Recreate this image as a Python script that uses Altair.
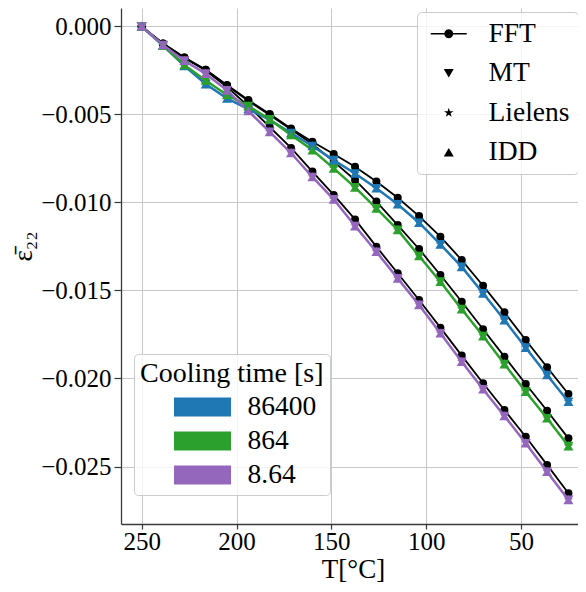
import altair as alt
import pandas as pd

# Temperatures (°C)
temps = [250, 238.75, 227.5, 216.25, 205, 193.75, 182.5, 171.25, 160, 148.75, 137.5,
         126.25, 115, 103.75, 92.5, 81.25, 70, 58.75, 47.5, 36.25, 25]

cooling_times = ["86400", "864", "8.64"]
cooling_colors = ["#1f77b4", "#2ca02c", "#9467bd"]
methods = ["FFT", "MT", "Lielens", "IDD"]

# FFT reference curves
fft_86400 = [0, -0.00097, -0.00176, -0.00246, -0.00332, -0.00418, -0.00497, -0.00580, -0.00655,
             -0.00724, -0.00797, -0.00881, -0.00973, -0.01077, -0.01194, -0.01327, -0.01473,
             -0.01624, -0.01781, -0.01936, -0.02088]
fft_864 = [0, -0.00097, -0.00176, -0.00246, -0.00335, -0.00423, -0.00503, -0.00585, -0.00668,
           -0.00768, -0.00872, -0.00995, -0.01128, -0.01264, -0.01412, -0.01564, -0.01720,
           -0.01876, -0.02031, -0.02183, -0.02340]
fft_8_64 = [0, -0.00099, -0.00179, -0.00250, -0.00344, -0.00452, -0.00571, -0.00690, -0.00824,
            -0.00957, -0.01096, -0.01251, -0.01402, -0.01554, -0.01711, -0.01870, -0.02027,
            -0.02179, -0.02331, -0.02491, -0.02652]

# Homogenization models (MT, Lielens and IDD coincide on the picture)
mt_86400 = [0, -0.00108, -0.00224, -0.00327, -0.00409, -0.00469, -0.00531, -0.00605, -0.00679,
            -0.00759, -0.00835, -0.00919, -0.01010, -0.01115, -0.01238, -0.01366, -0.01516,
            -0.01668, -0.01825, -0.01980, -0.02132]
mt_864 = [0, -0.00107, -0.00219, -0.00307, -0.00389, -0.00452, -0.00528, -0.00616, -0.00702,
          -0.00806, -0.00914, -0.01033, -0.01156, -0.01304, -0.01450, -0.01606, -0.01759,
          -0.01918, -0.02075, -0.02226, -0.02384]
mt_8_64 = [0, -0.00105, -0.00194, -0.00268, -0.00363, -0.00480, -0.00599, -0.00719, -0.00855,
           -0.00982, -0.01134, -0.01280, -0.01431, -0.01582, -0.01743, -0.01905, -0.02061,
           -0.02213, -0.02368, -0.02530, -0.02690]
lielens_86400 = list(mt_86400)
lielens_864 = list(mt_864)
lielens_8_64 = list(mt_8_64)
idd_86400 = list(mt_86400)
idd_864 = list(mt_864)
idd_8_64 = list(mt_8_64)

series = {
    ("FFT", "86400"): fft_86400, ("FFT", "864"): fft_864, ("FFT", "8.64"): fft_8_64,
    ("MT", "86400"): mt_86400, ("MT", "864"): mt_864, ("MT", "8.64"): mt_8_64,
    ("Lielens", "86400"): lielens_86400, ("Lielens", "864"): lielens_864, ("Lielens", "8.64"): lielens_8_64,
    ("IDD", "86400"): idd_86400, ("IDD", "864"): idd_864, ("IDD", "8.64"): idd_8_64,
}
rows = []
for (m, c), vals in series.items():
    for t, v in zip(temps, vals):
        rows.append({"T": t, "eps": v, "method": m, "cooling": c})
df = pd.DataFrame(rows)
df_fft = df[df.method == "FFT"]
df_idd = df[df.method == "IDD"]
df_hom = df[df.method != "FFT"]

FONT = "Liberation Serif"

x_enc = alt.X("T:Q", title="T[°C]",
              scale=alt.Scale(domain=[260.9, 19.95], nice=False, zero=False),
              axis=alt.Axis(values=[250, 200, 150, 100, 50], format="d", titleX=232,
                            titleY=53, titleBaseline="alphabetic", titleAnchor="start",
                            titleAlign="center"))
y_enc = alt.Y("eps:Q", title="ε̄₂₂",
              scale=alt.Scale(domain=[-0.028267, 0.001051], nice=False, zero=False),
              axis=alt.Axis(values=[0, -0.005, -0.010, -0.015, -0.020, -0.025], format=".3f",
                            titleX=-98, titleY=238, titleAngle=-90, titleBaseline="middle",
                            titleAlign="center", titleAnchor="start"))

fft_path = ("M-3.6,-0.15H3.6V0.15H-3.6Z"
            "M0.9,0L0.779,0.45L0.45,0.779L0,0.9L-0.45,0.779L-0.779,0.45L-0.9,0"
            "L-0.779,-0.45L-0.45,-0.779L0,-0.9L0.45,-0.779L0.779,-0.45Z")
star_path = ("M0,-1L0.225,-0.309L0.951,-0.309L0.363,0.118L0.588,0.809L0,0.382"
             "L-0.588,0.809L-0.363,0.118L-0.951,-0.309L-0.225,-0.309Z")
rect_path = "M-1.5,-0.5H1.5V0.5H-1.5Z"

shape_scale = alt.Scale(domain=methods, range=[fft_path, "triangle-down", star_path, "triangle-up"])
color_scale = alt.Scale(domain=cooling_times, range=cooling_colors)

shape_legend = alt.Legend(title=None, orient="none", legendX=296, legendY=4, padding=8,
                          symbolSize=100, symbolOffset=10, labelOffset=26, rowPadding=10.5,
                          labelFontSize=27.5, labelFont=FONT, symbolFillColor="black",
                          symbolStrokeWidth=0, fillColor="rgba(255,255,255,0.8)",
                          strokeColor="#cccccc", cornerRadius=4)
color_legend = alt.Legend(title="Cooling time [s]", orient="none", legendX=13, legendY=346,
                          padding=6, symbolType=rect_path, symbolSize=1444, symbolOffset=43.5,
                          labelOffset=26, rowPadding=1, titlePadding=0, labelFontSize=27.5,
                          titleFontSize=28, titleFont=FONT, labelFont=FONT, titleLimit=400,
                          titleFontWeight="normal", titleColor="black", labelColor="black",
                          symbolStrokeWidth=0, fillColor="rgba(255,255,255,0.8)",
                          strokeColor="#cccccc", cornerRadius=4)

fft_lines = alt.Chart(df_fft).mark_line(color="black", strokeWidth=1.8).encode(
    x=x_enc, y=y_enc, detail="cooling:N")
fft_points = alt.Chart(df_fft).mark_point(filled=True, color="black", size=64, shape="circle",
                                          opacity=1).encode(x=x_enc, y=y_enc)
hom_lines = alt.Chart(df_idd).mark_line(strokeWidth=2.5).encode(
    x=x_enc, y=y_enc,
    stroke=alt.Stroke("cooling:N", scale=color_scale, legend=color_legend))
hom_points = alt.Chart(df_hom).mark_point(filled=True, size=100, opacity=1).encode(
    x=x_enc, y=y_enc,
    fill=alt.Fill("cooling:N", scale=color_scale, legend=color_legend),
    shape=alt.Shape("method:N", scale=shape_scale, legend=shape_legend))

chart = alt.layer(fft_lines, fft_points, hom_lines, hom_points).properties(
    width=457, height=516,
    padding={"left": 113, "top": 0, "right": 0, "bottom": 60},
    autosize=alt.AutoSizeParams(type="none"),
).configure_view(stroke=None).configure_axis(
    labelFont=FONT, titleFont=FONT, labelFontSize=25, titleFontSize=27,
    titleFontWeight="normal", labelColor="black", titleColor="black",
    gridColor="#c8c8c8", gridWidth=1, domainColor="#3a3a3a", domainWidth=1.3,
    tickColor="#3a3a3a", tickWidth=1.2,
).configure_axisX(tickSize=5, labelPadding=0).configure_axisY(
    tickSize=7, labelPadding=3
).configure_legend(
    symbolBaseFillColor="black", symbolBaseStrokeColor="black"
)

chart.save("out.html", embed_options={"renderer": "svg", "actions": False})
